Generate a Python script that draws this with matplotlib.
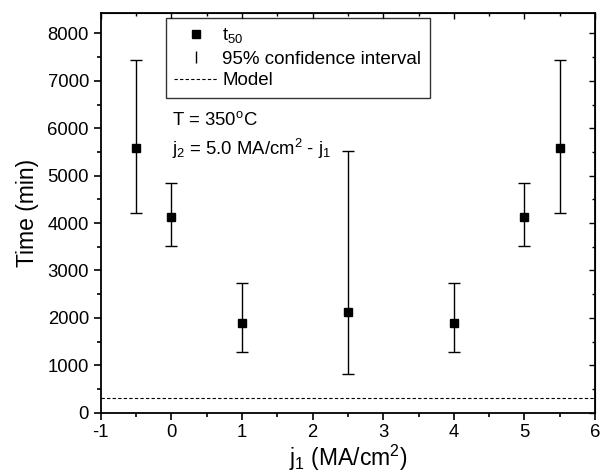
import matplotlib.pyplot as plt
from matplotlib.lines import Line2D
from matplotlib.ticker import MultipleLocator

plt.rcParams['font.family'] = ['Liberation Sans', 'DejaVu Sans']
plt.rcParams['mathtext.fontset'] = 'custom'
plt.rcParams['mathtext.rm'] = 'Liberation Sans'
plt.rcParams['axes.unicode_minus'] = False

# data
j1 = [-0.5, 0, 1, 2.5, 4, 5, 5.5]
t50 = [5580, 4120, 1890, 2130, 1890, 4120, 5580]
ci_low = [4210, 3520, 1290, 815, 1290, 3520, 4210]
ci_high = [7440, 4850, 2740, 5510, 2740, 4850, 7440]
model_time = 300

err_low = [t - lo for t, lo in zip(t50, ci_low)]
err_high = [hi - t for t, hi in zip(t50, ci_high)]

fig = plt.figure(figsize=(6.01, 4.76), dpi=100)
ax = fig.add_axes([0.1676, 0.133, 0.8225, 0.8397])

ax.errorbar(j1, t50, yerr=[err_low, err_high], fmt='none', ecolor='black',
            elinewidth=1.0, capsize=4, capthick=1.0)
ax.plot(j1, t50, 's', color='black', markersize=6)
ax.axhline(model_time, color='black', linestyle=(0, (3, 2)), linewidth=0.8)

ax.set_xlim(-1, 6)
ax.set_ylim(0, 8430)
ax.xaxis.set_major_locator(MultipleLocator(1))
ax.xaxis.set_minor_locator(MultipleLocator(0.5))
ax.yaxis.set_major_locator(MultipleLocator(1000))
ax.yaxis.set_minor_locator(MultipleLocator(500))
ax.tick_params(which='both', direction='out', labelsize=13.3, width=1.2)
ax.tick_params(which='major', length=5)
ax.tick_params(which='minor', length=3)
for s in ax.spines.values():
    s.set_linewidth(1.3)

# mirrored ticks pointing inward on top and right
top = ax.secondary_xaxis('top')
top.xaxis.set_major_locator(MultipleLocator(1))
top.xaxis.set_minor_locator(MultipleLocator(0.5))
top.tick_params(which='both', direction='in', labeltop=False, width=1.0)
top.tick_params(which='major', length=4)
top.tick_params(which='minor', length=2.5)
right = ax.secondary_yaxis('right')
right.yaxis.set_major_locator(MultipleLocator(1000))
right.yaxis.set_minor_locator(MultipleLocator(500))
right.tick_params(which='both', direction='in', labelright=False, width=1.0)
right.tick_params(which='major', length=4)
right.tick_params(which='minor', length=2.5)

ax.set_xlabel('j$_1$ (MA/cm$^2$)', fontsize=16.5, labelpad=1)
ax.set_ylabel('Time (min)', fontsize=16.5, labelpad=6)

ax.text(0.01, 6170, 'T = 350$^\\mathrm{o}$C', fontsize=13.3, va='center')
ax.text(0.01, 5560, 'j$_2$ = 5.0 MA/cm$^2$ - j$_1$', fontsize=13.3, va='center')

handles = [
    Line2D([], [], marker='s', color='black', linestyle='none', markersize=6),
    Line2D([], [], marker='|', color='black', linestyle='none', markersize=9),
    Line2D([], [], color='black', linestyle=(0, (3, 2)), linewidth=0.8),
]
labels = ['t$_{50}$', '95% confidence interval', 'Model']
leg = ax.legend(handles, labels, loc='upper left', bbox_to_anchor=(0.132, 0.9875),
                borderaxespad=0, fontsize=13.5, frameon=True, fancybox=False,
                edgecolor='black', handlelength=2.3, handletextpad=0.25,
                borderpad=0.45, labelspacing=0.25)
leg.get_frame().set_linewidth(1.0)

fig.savefig('out.png', dpi=100)
